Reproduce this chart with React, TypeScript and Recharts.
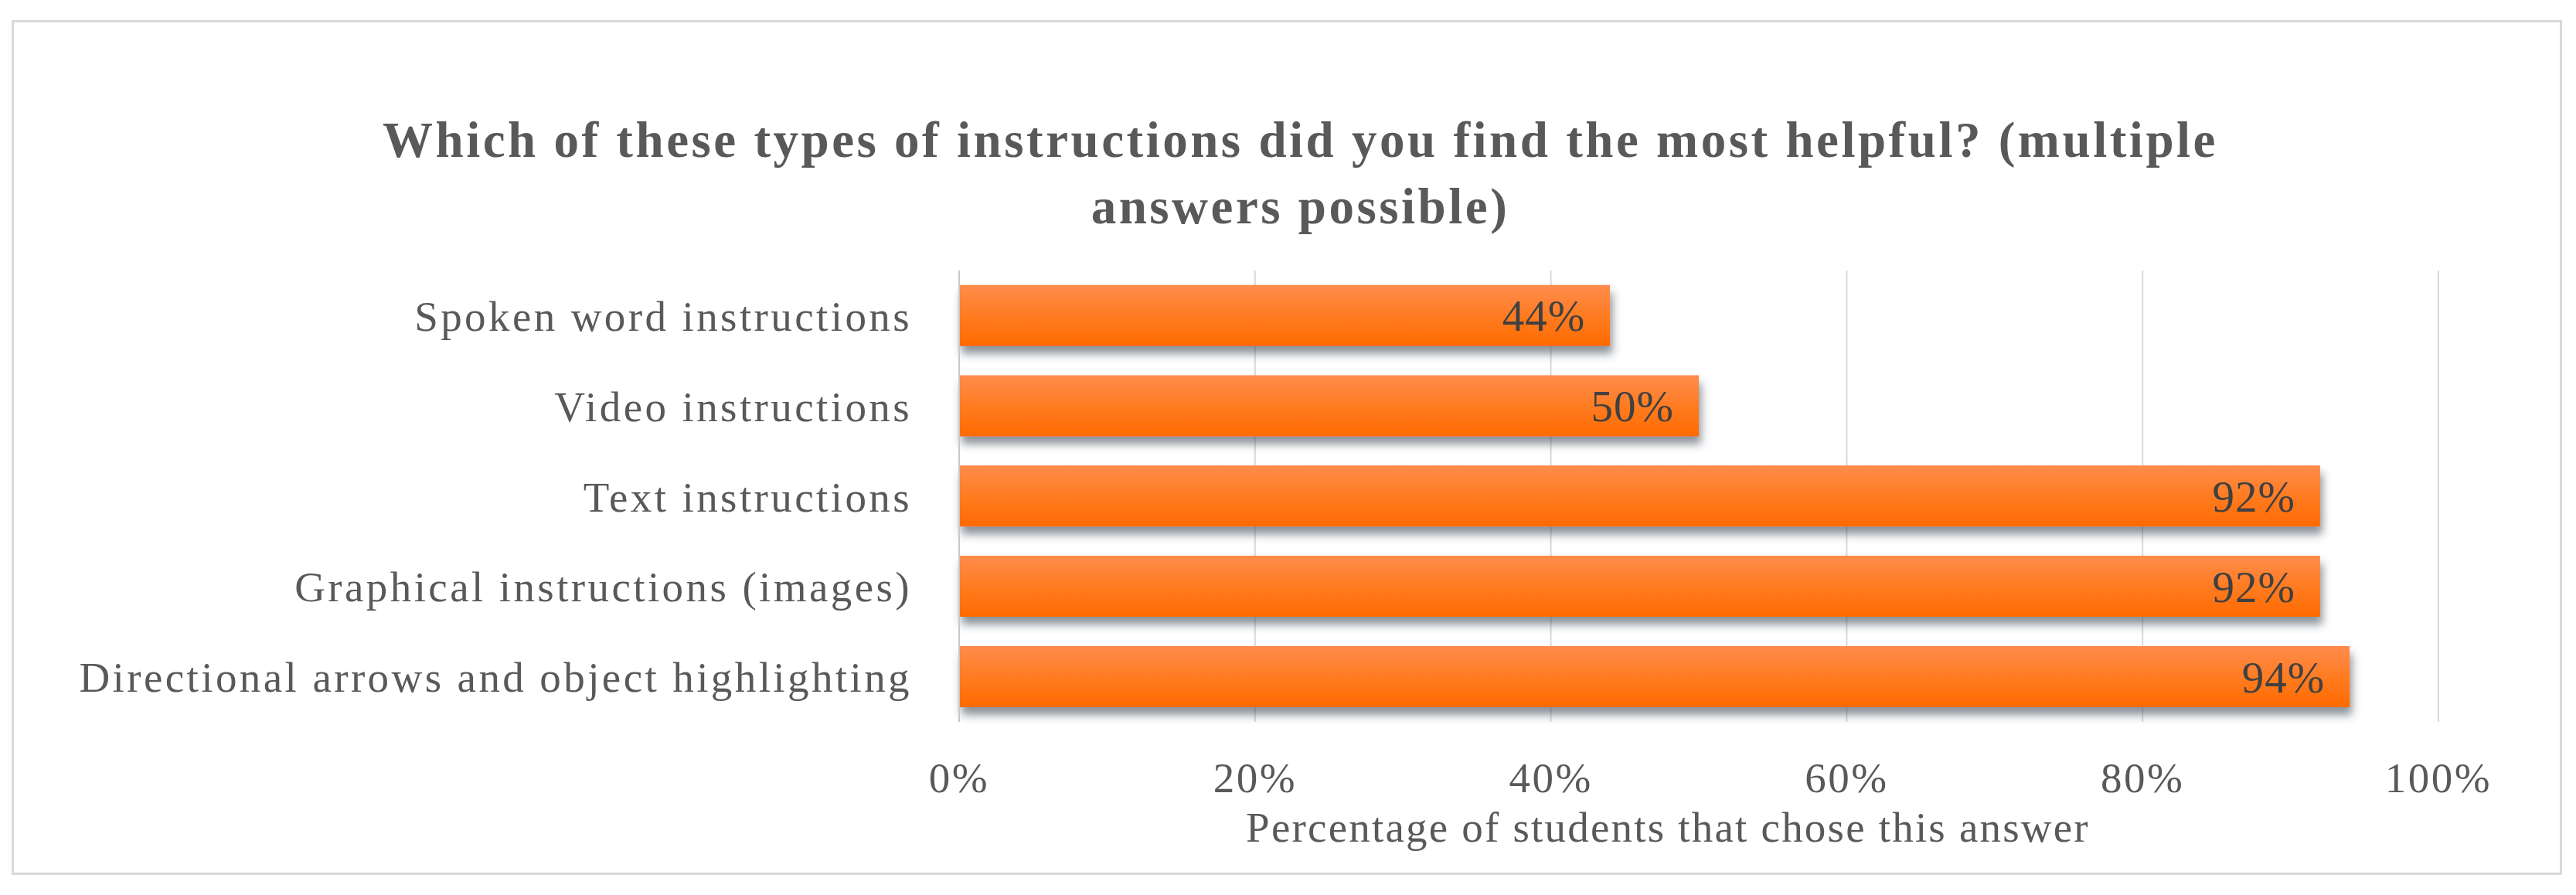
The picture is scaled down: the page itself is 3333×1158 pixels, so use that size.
import React from 'react';
import { BarChart, Bar, XAxis, YAxis, CartesianGrid, LabelList, Label } from 'recharts';

const categories = [
  'Spoken word instructions',
  'Video instructions',
  'Text instructions',
  'Graphical instructions (images)',
  'Directional arrows and object highlighting',
];
const shares = [0.44, 0.5, 0.92, 0.92, 0.94];
const xTicks = [0, 0.2, 0.4, 0.6, 0.8, 1];

const data = categories.map((name, i) => ({ name, value: shares[i] }));

const FONT = '"Liberation Serif", "DejaVu Serif", serif';
const pct = (v: number) => `${Math.round(v * 100)}%`;

// serif text is a bit narrow vs the original Palatino, so widen with spacing
const textStyle = { fontSize: 55, fill: '#595959', fontFamily: FONT, letterSpacing: 2.5 };

export default function App() {
  return (
    <div style={{ position: 'absolute', left: 0, top: 0, width: 3333, height: 1158, background: '#fff', fontFamily: FONT }}>
      <div
        style={{
          position: 'absolute',
          left: 15,
          top: 26,
          width: 3294,
          height: 1100,
          border: '3px solid #d9d9d9',
        }}
      />
      <div
        style={{
          position: 'absolute',
          left: 16,
          top: 138,
          width: 3333,
          textAlign: 'center',
          fontSize: 65,
          fontWeight: 'bold',
          color: '#595959',
          lineHeight: '86px',
          letterSpacing: 3.5,
        }}
      >
        <div>Which of these types of instructions did you find the most helpful? (multiple</div>
        <div>answers possible)</div>
      </div>
      <div style={{ position: 'absolute', left: 0, top: 0 }}>
        <BarChart
          layout="vertical"
          width={3333}
          height={1158}
          data={data}
          margin={{ top: 350, right: 178, bottom: 0, left: 0 }}
          barCategoryGap="16%"
        >
          <defs>
            <linearGradient id="barFill" x1="0" y1="0" x2="0" y2="1">
              <stop offset="0%" stopColor="#ff8c4c" />
              <stop offset="55%" stopColor="#ff7a1e" />
              <stop offset="100%" stopColor="#ff6a00" />
            </linearGradient>
            <filter id="barShadow" x="-5%" y="-30%" width="110%" height="170%">
              <feDropShadow dx="3" dy="10" stdDeviation="6" floodColor="#3a4a55" floodOpacity="0.6" />
            </filter>
          </defs>
          <CartesianGrid horizontal={false} stroke="#d9d9d9" strokeWidth={2} />
          <XAxis
            type="number"
            domain={[0, 1]}
            ticks={xTicks}
            tickFormatter={pct}
            axisLine={false}
            tickLine={false}
            tick={textStyle}
            tickMargin={46}
            height={224}
          >
            <Label
              value="Percentage of students that chose this answer"
              position="insideTop"
              offset={116}
              dx={-40}
              style={{ ...textStyle, letterSpacing: 2.2 }}
            />
          </XAxis>
          <YAxis
            type="category"
            dataKey="name"
            width={1241}
            axisLine={{ stroke: '#c8c8c8', strokeWidth: 2 }}
            tickLine={false}
            tickMargin={55}
            tick={{ ...textStyle, letterSpacing: 3.4 }}
          />
          <Bar dataKey="value" fill="url(#barFill)" filter="url(#barShadow)" isAnimationActive={false}>
            <LabelList
              dataKey="value"
              position="insideRight"
              offset={32}
              formatter={(v: number) => pct(v)}
              style={{ ...textStyle, fontSize: 57, fill: '#404040', letterSpacing: 1 }}
            />
          </Bar>
        </BarChart>
      </div>
    </div>
  );
}
